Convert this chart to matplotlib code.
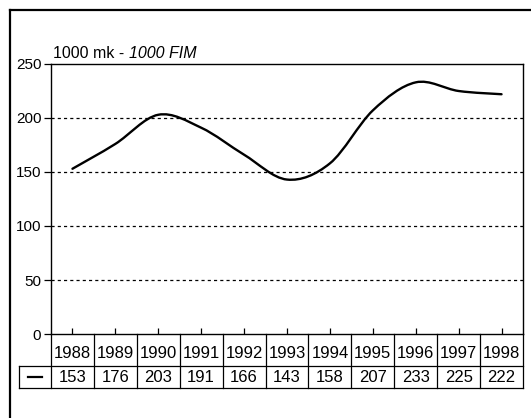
import matplotlib.pyplot as plt
import numpy as np
from matplotlib.path import Path
from matplotlib.patches import PathPatch
from matplotlib.lines import Line2D
import matplotlib.transforms as mtransforms

plt.rcParams['font.family'] = ['Liberation Sans', 'DejaVu Sans']

years = ['1988', '1989', '1990', '1991', '1992', '1993', '1994', '1995', '1996', '1997', '1998']
values = [153, 176, 203, 191, 166, 143, 158, 207, 233, 225, 222]
yticks = [0, 50, 100, 150, 200, 250]

fig = plt.figure(figsize=(5.31, 4.18), dpi=100)
ax = fig.add_axes([51/531, 1-334/418, 472/531, 270/418])

n = len(years)
x = np.arange(n)
y = np.array(values, dtype=float)

# smooth curve through the points (catmull-rom as bezier segments)
verts = [(x[0], y[0])]
codes = [Path.MOVETO]
for i in range(n-1):
    p0 = np.array([x[max(i-1, 0)], y[max(i-1, 0)]])
    p1 = np.array([x[i], y[i]])
    p2 = np.array([x[i+1], y[i+1]])
    p3 = np.array([x[min(i+2, n-1)], y[min(i+2, n-1)]])
    c1 = p1 + (p2-p0)/6
    c2 = p2 - (p3-p1)/6
    verts += [tuple(c1), tuple(c2), tuple(p2)]
    codes += [Path.CURVE4]*3
ax.add_patch(PathPatch(Path(verts, codes), fill=False, lw=1.7, color='black', capstyle='round'))

ax.set_xlim(-0.5, n-0.5)
ax.set_ylim(0, 250)
for v in yticks[1:-1]:
    ax.axhline(v, color='black', lw=0.9, ls=(0, (2.5, 2.5)))

ax.set_yticks(yticks)
ax.tick_params(axis='y', direction='out', length=5, width=0.9, labelsize=11, pad=2)
ax.set_xticks(x)
ax.tick_params(axis='x', direction='in', length=4, width=0.9, labelbottom=False)
for s in ax.spines.values():
    s.set_linewidth(1.0)

ax.text(0.005, 1.012, '1000 mk - ', transform=ax.transAxes, fontsize=11.5, va='bottom', ha='left')
t = ax.texts[-1]
fig.canvas.draw()
bb = t.get_window_extent()
fig.text(bb.x1/fig.dpi/5.31, bb.y0/418, '1000 FIM', fontsize=11.5, style='italic', va='bottom', ha='left')

# data table below the axis
tr = mtransforms.blended_transform_factory(ax.transData, ax.transAxes)
r1 = -32/270
r2 = -54/270
x0 = -0.5 - 32/(472/n)
for k in range(n+1):
    ax.add_line(Line2D([k-0.5, k-0.5], [0, r2], transform=tr, color='black', lw=0.9, clip_on=False))
ax.add_line(Line2D([x0, x0], [r1, r2], transform=tr, color='black', lw=0.9, clip_on=False))
for r in [r1, r2]:
    ax.add_line(Line2D([x0, n-0.5], [r, r], transform=tr, color='black', lw=0.9, clip_on=False))
for i in range(n):
    ax.text(x[i], -19/270, years[i], transform=tr, ha='center', va='center', fontsize=12)
    ax.text(x[i], -43/270, str(values[i]), transform=tr, ha='center', va='center', fontsize=12)
ax.add_line(Line2D([(x0-0.5)/2 - 0.17, (x0-0.5)/2 + 0.17], [-43/270, -43/270], transform=tr,
                   color='black', lw=1.6, clip_on=False))

# outer frame (left and top only)
fig.add_artist(Line2D([9.5/531, 9.5/531], [0, 1-9.5/418], transform=fig.transFigure, color='black', lw=1.6))
fig.add_artist(Line2D([9.5/531, 1], [1-9.5/418, 1-9.5/418], transform=fig.transFigure, color='black', lw=1.6))

fig.savefig('out.png', dpi=100)
